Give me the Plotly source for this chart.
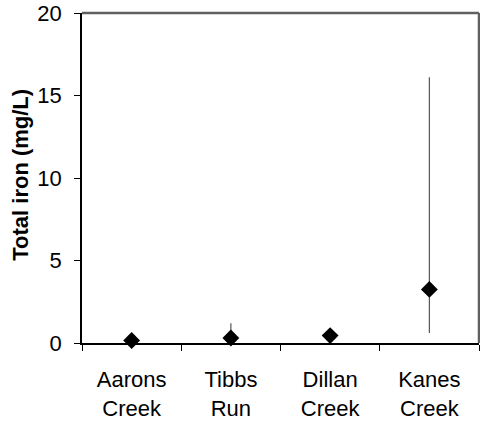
import plotly.graph_objects as go

# Total iron by stream site: mean with observed range
sites = ["Aarons<br>Creek", "Tibbs<br>Run", "Dillan<br>Creek", "Kanes<br>Creek"]
mean_iron = [0.15, 0.3, 0.45, 3.25]
low_iron = [0.15, 0.3, 0.45, 0.6]
high_iron = [0.15, 1.2, 0.45, 16.1]

y_ticks = [0, 5, 10, 15, 20]
boundaries = [-0.5, 0.5, 1.5, 2.5, 3.5]

err_plus = [h - m for h, m in zip(high_iron, mean_iron)]
err_minus = [m - l for m, l in zip(mean_iron, low_iron)]

FONT = "Liberation Sans, Arial, sans-serif"

fig = go.Figure()
fig.add_trace(go.Scatter(
    x=sites, y=mean_iron, mode="markers",
    marker=dict(symbol="diamond", size=13, color="black"),
    error_y=dict(type="data", symmetric=False, array=err_plus,
                 arrayminus=err_minus, width=0, thickness=1.2, color="#555555"),
    showlegend=False, cliponaxis=False,
))

plain = dict(showgrid=False, zeroline=False, showticklabels=False)

fig.update_layout(
    width=480, height=427,
    margin=dict(l=82, r=1, t=10, b=84),
    paper_bgcolor="white", plot_bgcolor="white",
    font=dict(family=FONT, size=22, color="black"),
    xaxis=dict(
        type="category", tickson="boundaries", ticks="outside", ticklen=6,
        tickcolor="black", tickwidth=1, showline=True, linecolor="black",
        linewidth=1.5, showgrid=False, zeroline=False,
        range=[-0.5, 3.5], ticklabelstandoff=16, ticklabeloverflow="allow",
    ),
    yaxis=dict(
        range=[0, 20], tickvals=y_ticks, ticks="outside", ticklen=6,
        tickcolor="black", tickwidth=1, showline=True, linecolor="black",
        linewidth=1.5, showgrid=False, zeroline=False, ticklabelstandoff=8,
        ticklabeloverflow="allow",
    ),
    # inner halves of the crossing tick marks
    xaxis2=dict(
        overlaying="x", anchor="y", range=[-0.5, 3.5], tickvals=boundaries,
        ticks="inside", ticklen=6, tickcolor="black", tickwidth=1,
        showline=False, **plain,
    ),
    yaxis2=dict(
        overlaying="y", anchor="x", side="left", range=[0, 20], tickvals=y_ticks,
        ticks="inside", ticklen=6, tickcolor="black", tickwidth=1,
        showline=False, **plain,
    ),
    # grey frame along the top and right of the plot area
    shapes=[
        dict(type="line", xref="paper", yref="paper", x0=0, x1=1, y0=1, y1=1,
             layer="above", line=dict(color="#606060", width=2.5)),
        dict(type="line", xref="paper", yref="paper", x0=1, x1=1, y0=0, y1=1,
             layer="above", line=dict(color="#606060", width=2.5)),
    ],
    annotations=[
        dict(text="<b>Total iron (mg/L)</b>", textangle=-90, showarrow=False,
             xref="paper", yref="paper", x=-0.1535, y=0.51,
             xanchor="center", yanchor="middle", font=dict(size=22)),
    ],
)

fig.write_html("out.html")
